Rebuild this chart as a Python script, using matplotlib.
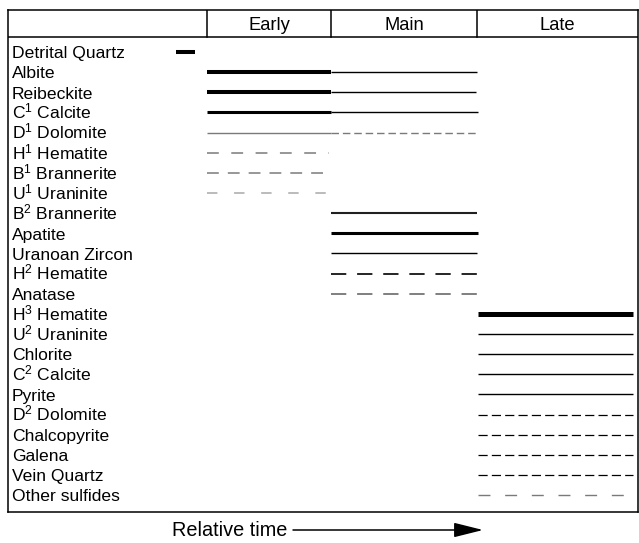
"""Paragenetic sequence chart: mineral stages across relative time."""
import matplotlib
matplotlib.use("Agg")
import matplotlib.pyplot as plt

plt.rcParams["font.family"] = ["Liberation Sans", "DejaVu Sans"]
plt.rcParams["mathtext.fontset"] = "custom"
plt.rcParams["mathtext.rm"] = "Liberation Sans"
plt.rcParams["mathtext.default"] = "regular"
plt.rcParams["lines.scale_dashes"] = False

# stages and their boundaries on the relative time scale
stages = ["Early", "Main", "Late"]
stage_edges = [0, 124, 270, 431]

minerals = [
    "Detrital Quartz", "Albite", "Reibeckite", "C$^1$ Calcite", "D$^1$ Dolomite",
    "H$^1$ Hematite", "B$^1$ Brannerite", "U$^1$ Uraninite", "B$^2$ Brannerite",
    "Apatite", "Uranoan Zircon", "H$^2$ Hematite", "Anatase", "H$^3$ Hematite",
    "U$^2$ Uraninite", "Chlorite", "C$^2$ Calcite", "Pyrite", "D$^2$ Dolomite",
    "Chalcopyrite", "Galena", "Vein Quartz", "Other sulfides",
]

# one entry per drawn segment: row index, start, end, line style key
seg_row = [0, 1, 1, 2, 2, 3, 3, 4, 4, 5, 6, 7,
           8, 9, 10, 11, 12,
           13, 14, 15, 16, 17, 18, 19, 20, 21, 22]
seg_start = [-31, 0, 124, 0, 124, 0, 124, 0, 124, 0, 0, 0,
             124, 124, 124, 124, 124,
             271, 271, 271, 271, 271, 271, 271, 271, 271, 271]
seg_end = [-12, 124, 270, 124, 269, 124, 271, 124, 270, 122, 122, 122,
           270, 271, 270, 270, 270,
           426, 426, 426, 426, 426, 426, 426, 426, 426, 418]
seg_style = ["thick", "thick", "thin", "thick", "thin", "medium", "thin",
             "gray", "gray_fine", "gray_long", "gray_mid", "light_long",
             "medium_dark", "medium", "thin", "black_long", "gray_long2",
             "xthick", "thin", "thin", "thin", "thin",
             "short", "short", "short", "short", "gray_sparse"]

STYLES = {
    "xthick": dict(color="black", lw=3.6),
    "thick": dict(color="black", lw=2.9),
    "medium": dict(color="black", lw=2.2),
    "medium_dark": dict(color="#202020", lw=1.5),
    "thin": dict(color="black", lw=1.0),
    "gray": dict(color="#7a7a7a", lw=1.0),
    "gray_fine": dict(color="#7a7a7a", lw=1.0, dashes=(5.4, 2.8)),
    "gray_long": dict(color="#7a7a7a", lw=1.1, dashes=(8.5, 9)),
    "gray_mid": dict(color="#7a7a7a", lw=1.1, dashes=(8.5, 6.5)),
    "light_long": dict(color="#a8a8a8", lw=1.1, dashes=(7.5, 12)),
    "black_long": dict(color="black", lw=1.2, dashes=(11, 7.8)),
    "gray_long2": dict(color="#6a6a6a", lw=1.2, dashes=(11, 7.8)),
    "short": dict(color="black", lw=0.9, dashes=(6.6, 3.0)),
    "gray_sparse": dict(color="#7a7a7a", lw=1.0, dashes=(8.6, 10.6)),
}

W, H = 639, 543
fig = plt.figure(figsize=(W / 100, H / 100), dpi=100)
box_left, box_right, box_top, box_bottom = 8, 638, 10, 512
ax = fig.add_axes([box_left / W, 1 - box_bottom / H,
                   (box_right - box_left) / W, (box_bottom - box_top) / H])

row0, row_step = 52, 20.14
ax.set_xlim(box_left - 207, box_right - 207)
ax.set_ylim((box_bottom - row0) / row_step, (box_top - row0) / row_step)
ax.set_xticks([])
ax.set_yticks([])
for sp in ax.spines.values():
    sp.set_linewidth(1.1)

# header row
header_y = (37 - row0) / row_step
top_y = (box_top - row0) / row_step
ax.plot([box_left - 207, box_right - 207], [header_y, header_y], color="black", lw=1.1)
for edge in stage_edges[:-1]:
    ax.plot([edge, edge], [top_y, header_y], color="black", lw=1.1)
for name, a, b in zip(stages, stage_edges[:-1], stage_edges[1:]):
    ax.text((a + b) / 2, (30 - row0) / row_step, name, ha="center",
            va="baseline", fontsize=13.2)

baseline_shift = 6.3 / row_step
for i, name in enumerate(minerals):
    ax.text(-195, i + baseline_shift, name, ha="left", va="baseline", fontsize=12.6)

for r, x0, x1, st in zip(seg_row, seg_start, seg_end, seg_style):
    ax.plot([x0, x1], [r, r], solid_capstyle="butt", dash_capstyle="butt",
            **STYLES[st])

fig.text(172 / W, 1 - 535.5 / H, "Relative time", ha="left",
         va="baseline", fontsize=14.3)
ax.annotate("", xy=(483, H - 530), xytext=(293, H - 530),
            xycoords="figure pixels", textcoords="figure pixels",
            arrowprops=dict(arrowstyle="-|>,head_length=1.8,head_width=0.45",
                            mutation_scale=10, lw=1.1, color="black",
                            shrinkA=0, shrinkB=0))

fig.savefig("out.png", dpi=100)
